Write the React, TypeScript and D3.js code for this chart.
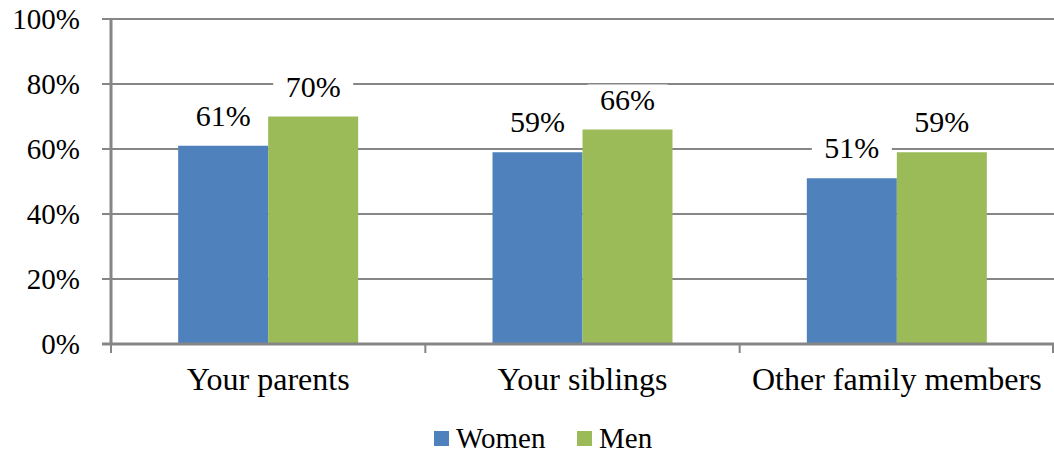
import React from "react";
import * as d3 from "d3";

const categories = ["Your parents", "Your siblings", "Other family members"];
const seriesNames = ["Women", "Men"];
const women = [61, 59, 51];
const men = [70, 66, 59];
const yTicks = [0, 20, 40, 60, 80, 100];
const colors = ["#4F81BD", "#9BBB59"];

const W = 1054;
const H = 457;
const left = 111;
const right = 1054;
const top = 19;
const bottom = 344;
const FONT = "Liberation Serif, Times New Roman, serif";
const ts: React.CSSProperties = { fontFamily: FONT };

export default function App() {
  const x0 = d3.scaleBand<string>().domain(categories).range([left, right]).paddingInner(0).paddingOuter(0);
  const groupW = 180;
  const x1 = d3.scaleBand<string>().domain(seriesNames).range([0, groupW]);
  const y = d3.scaleLinear().domain([0, 100]).range([bottom, top]);
  const data = [women, men];
  const gray = "#868686";

  return (
    <svg width={W} height={H} style={{ position: "absolute", left: 0, top: 0, background: "#fff" }}>
      {yTicks.map((t) => (
        <g key={t}>
          <line x1={left - 9} x2={right} y1={y(t)} y2={y(t)} stroke={gray} strokeWidth={2} />
          <text x={80} y={y(t) + 10} textAnchor="end" fontSize={29} fill="#000" style={ts}>
            {`${t}%`}
          </text>
        </g>
      ))}
      {categories.map((c, i) => {
        const cx = x0(c)! + x0.bandwidth() / 2;
        const gx = cx - groupW / 2;
        return (
          <g key={c}>
            {data.map((s, j) => {
              const bx = gx + x1(seriesNames[j])!;
              const bw = x1.bandwidth();
              return (
                <rect key={j} x={bx} y={y(s[i])} width={bw} height={bottom - y(s[i])} fill={colors[j]} />
              );
            })}
            <text x={cx} y={390} textAnchor="middle" fontSize={32} fill="#000" style={ts}>
              {c}
            </text>
          </g>
        );
      })}
      {/* axes */}
      <line x1={left} x2={left} y1={top - 1} y2={bottom + 1} stroke={gray} strokeWidth={3} />
      <line x1={left - 9} x2={right} y1={bottom} y2={bottom} stroke={gray} strokeWidth={3} />
      {[...categories.map((c) => x0(c)!), right - 1].map((tx, i) => (
        <line key={i} x1={tx} x2={tx} y1={bottom} y2={bottom + 9} stroke={gray} strokeWidth={2} />
      ))}
      {/* value labels */}
      {categories.map((c, i) => {
        const cx = x0(c)! + x0.bandwidth() / 2;
        const gx = cx - groupW / 2;
        return data.map((s, j) => {
          const bx = gx + x1(seriesNames[j])! + x1.bandwidth() / 2;
          const ty = y(s[i]) - 20;
          return (
            <g key={`${i}-${j}`}>
              <rect x={bx - 40} y={ty - 25} width={80} height={31} fill="#fff" />
              <text x={bx} y={ty} textAnchor="middle" fontSize={30} fill="#000" style={ts}>
                {`${s[i]}%`}
              </text>
            </g>
          );
        });
      })}
      {/* legend */}
      {seriesNames.map((n, j) => {
        const lx = j === 0 ? 434 : 577;
        return (
          <g key={n}>
            <rect x={lx} y={431} width={15} height={15} fill={colors[j]} />
            <text x={lx + 22} y={448} fontSize={29} fill="#000" style={ts}>
              {n}
            </text>
          </g>
        );
      })}
    </svg>
  );
}
